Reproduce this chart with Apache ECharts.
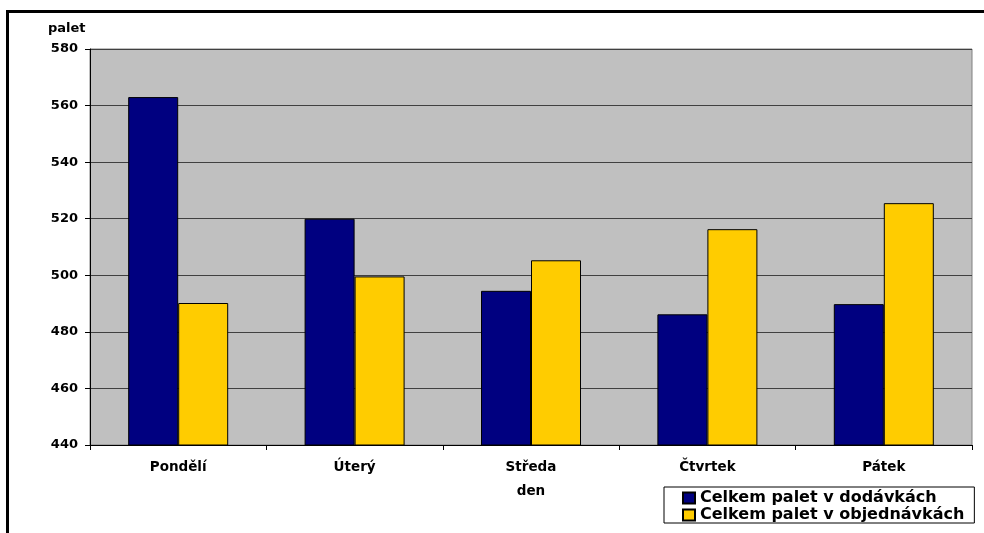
<!DOCTYPE html>
<html>
<head>
<meta charset="utf-8">
<script src="https://cdn.jsdelivr.net/npm/echarts@6/dist/echarts.min.js"></script>
<style>
html,body{margin:0;padding:0;background:#fff;overflow:hidden;}
#c{width:984px;height:533px;}
</style>
</head>
<body>
<div id="c"></div>
<script>
const categories = ['Pondělí', 'Úterý', 'Středa', 'Čtvrtek', 'Pátek'];
const dodavky = [563, 520, 494.5, 486.2, 489.8];
const objednavky = [490.2, 499.6, 505.3, 516.3, 525.5];
const seriesNames = ['Celkem palet v dodávkách', 'Celkem palet v objednávkách'];
const yTicks = { min: 440, max: 580, interval: 20 };

const FONT = 'DejaVu Sans';
const chart = echarts.init(document.getElementById('c'));
chart.setOption({
  animation: false,
  backgroundColor: '#ffffff',
  grid: {
    left: 90, top: 49, right: 12, bottom: 88,
    show: true, backgroundColor: '#C0C0C0', borderColor: '#808080', borderWidth: 1
  },
  graphic: [
    { type: 'rect', silent: true, shape: { x: 6, y: 10, width: 3, height: 523 }, style: { fill: '#000' } },
    { type: 'rect', silent: true, shape: { x: 6, y: 10, width: 978, height: 3 }, style: { fill: '#000' } },
    { type: 'text', left: 48, top: 22, style: { text: 'palet', font: 'bold 13px "DejaVu Sans"', fill: '#000' } }
  ],
  legend: {
    left: 664, top: 487,
    orient: 'vertical',
    itemGap: 1,
    itemWidth: 12, itemHeight: 11,
    padding: [3, 10, 0, 18],
    borderColor: '#000', borderWidth: 1,
    icon: 'rect',
    textStyle: { fontFamily: FONT, fontWeight: 'bold', fontSize: 16, color: '#000', lineHeight: 16 },
    data: seriesNames
  },
  xAxis: {
    type: 'category',
    data: categories,
    name: 'den',
    nameLocation: 'middle',
    nameGap: 39,
    nameTextStyle: { fontFamily: FONT, fontWeight: 'bold', fontSize: 13.5, color: '#000' },
    axisLine: { lineStyle: { color: '#000', width: 1 } },
    axisTick: { show: true, length: 5, alignWithLabel: false, lineStyle: { color: '#000' } },
    axisLabel: { margin: 15, fontFamily: FONT, fontWeight: 'bold', fontSize: 13.5, color: '#000' },
    splitLine: { show: false }
  },
  yAxis: {
    type: 'value',
    min: yTicks.min, max: yTicks.max, interval: yTicks.interval,
    axisLine: { show: true, lineStyle: { color: '#000', width: 1 } },
    axisTick: { show: true, length: 5, lineStyle: { color: '#000' } },
    axisLabel: { margin: 12, fontFamily: FONT, fontWeight: 'bold', fontSize: 13, color: '#000' },
    splitLine: { show: true, lineStyle: { color: '#404040', width: 1 } }
  },
  series: [
    {
      name: seriesNames[0], type: 'bar', data: dodavky,
      barWidth: 50, barGap: '0%',
      itemStyle: { color: '#000080', borderColor: '#000', borderWidth: 1 }
    },
    {
      name: seriesNames[1], type: 'bar', data: objednavky,
      barWidth: 50,
      itemStyle: { color: '#FFCC00', borderColor: '#000', borderWidth: 1 }
    }
  ]
});
</script>
</body>
</html>
